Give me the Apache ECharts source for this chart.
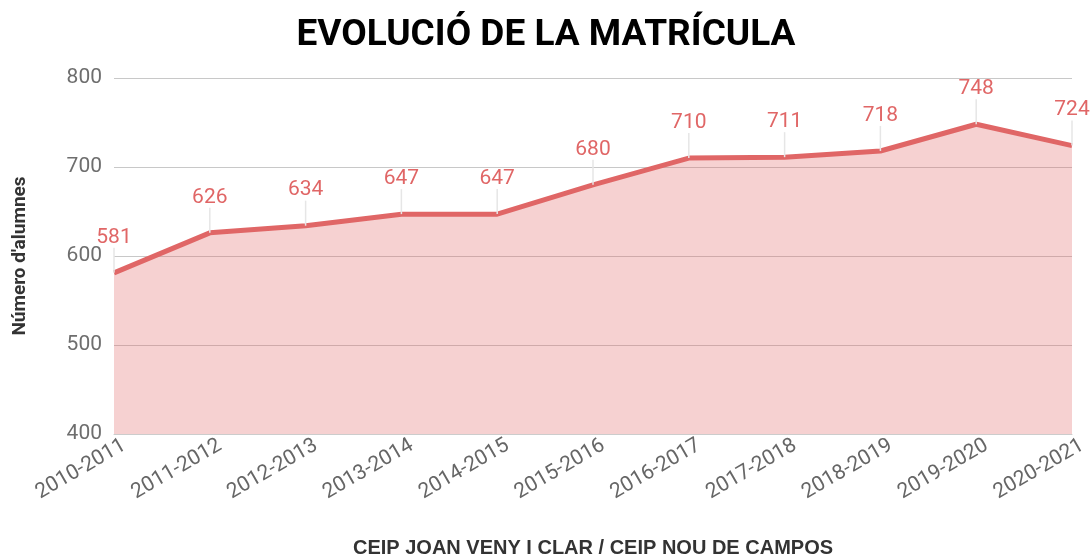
<!DOCTYPE html>
<html>
<head>
<meta charset="utf-8">
<script src="https://cdn.jsdelivr.net/npm/echarts@6/dist/echarts.min.js"></script>
<style>
  html, body { margin: 0; padding: 0; background: #fff; }
  #cv { width: 1092px; height: 554px; }
</style>
</head>
<body>
<div id="cv"></div>
<script>
var cursos = ['2010-2011', '2011-2012', '2012-2013', '2013-2014', '2014-2015', '2015-2016',
              '2016-2017', '2017-2018', '2018-2019', '2019-2020', '2020-2021'];
var alumnes = [581, 626, 634, 647, 647, 680, 710, 711, 718, 748, 724];

var myChart = echarts.init(document.getElementById('cv'));

var option = {
    backgroundColor: '#fff',
    textStyle: { fontFamily: 'Roboto' },
    title: {
        text: 'EVOLUCIÓ DE LA MATRÍCULA',
        left: 'center',
        top: 12,
        textStyle: { fontSize: 37, fontWeight: 'bold', color: '#000', fontFamily: 'Roboto' }
    },
    grid: { left: 114, right: 20, top: 78, bottom: 120, outerBoundsMode: 'none', containLabel: false },
    xAxis: {
        type: 'category',
        data: cursos,
        boundaryGap: false,
        name: 'CEIP JOAN VENY I CLAR / CEIP NOU DE CAMPOS',
        nameLocation: 'middle',
        nameGap: 104,
        nameTextStyle: { fontSize: 20, fontWeight: 'bold', color: '#333', fontFamily: 'Liberation Sans' },
        axisLine: { lineStyle: { color: '#ccc' } },
        axisTick: { show: false },
        axisLabel: { rotate: 30, fontSize: 21, color: '#666', margin: 16, padding: [0, -12, 0, 0] }
    },
    yAxis: {
        type: 'value',
        min: 400,
        max: 800,
        interval: 100,
        name: "Número d'alumnes",
        nameLocation: 'middle',
        nameGap: 84,
        nameTextStyle: { fontSize: 19, fontWeight: 'bold', color: '#333' },
        axisLine: { show: false },
        axisTick: { show: false },
        axisLabel: { fontSize: 21, color: '#6e6e6e', margin: 12 },
        splitLine: { lineStyle: { color: '#c8c8c8' } }
    },
    series: [
        {
            type: 'line',
            data: alumnes,
            symbol: 'circle',
            symbolSize: 0.1,
            showSymbol: true,
            lineStyle: { color: '#e06666', width: 5 },
            itemStyle: { color: '#e06666' },
            areaStyle: { color: '#e06666', opacity: 0.3 },
            label: {
                show: true,
                position: 'top',
                distance: 5,
                fontSize: 21,
                color: '#e06666'
            },
            labelLayout: { dy: -20 },
            labelLine: { show: true, lineStyle: { color: '#e6e6e6', width: 1.5 } }
        }
    ]
};

myChart.setOption(option);
</script>
</body>
</html>
